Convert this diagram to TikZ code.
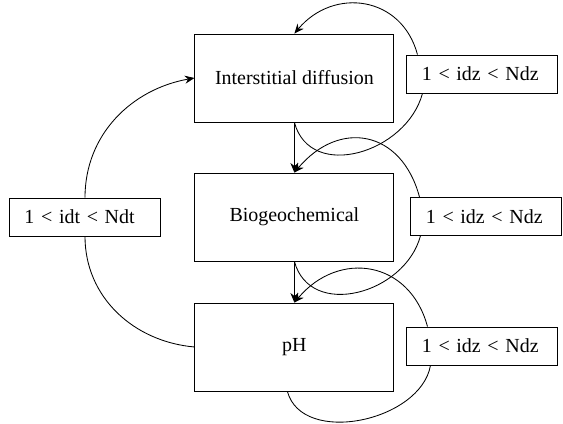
\documentclass[tikz,border=0pt]{standalone}
\usepackage{fontspec}
\setmainfont{Liberation Serif}
\usetikzlibrary{arrows.meta}
\begin{document}
\begin{tikzpicture}[>={Stealth[length=2.4mm,width=2mm]},semithick,
		stage/.style={draw,minimum width=4.975cm,minimum height=2.2cm},
		loopbox/.style={draw,fill=white,minimum height=0.95cm,text width=3.025cm,inner xsep=0.375cm,align=left},
		every node/.style={font=\fontsize{14.2}{17}\selectfont}]
		\useasboundingbox (0,0) rectangle (14.075,10.6);
		% the three stages
		\node[stage] (diff) at (7.36,8.65) {Interstitial diffusion};
		\node[stage] (bgc) at (7.36,5.175) {Biogeochemical};
		\node[stage] (ph) at (7.36,1.925) {pH};
		% loop labels
		\node[loopbox] (idt) at (2.125,5.175) {1 < idt < Ndt};
		\node[loopbox] (idzA) at (12.06,8.75) {1 < idz < Ndz};
		\node[loopbox] (idzB) at (12.16,5.19) {1 < idz < Ndz};
		\node[loopbox] (idzC) at (12.06,1.95) {1 < idz < Ndz};
		% main chain
		\draw[->] (diff.south) -- (bgc.north);
		\draw[->] (bgc.south) -- (ph.north);
		% time loop
		\draw (ph.west) to[out=175,in=-90] (idt.south);
		\draw[->] (idt.north) to[out=90,in=190] (diff.west);
		% depth loops
		\draw (diff.south) to[out=-75,in=-105,looseness=1.2] ([xshift=0.4cm]idzA.south west);
		\draw[->] ([xshift=0.275cm]idzA.north west) to[out=105,in=50,looseness=1.25] (diff.north);
		\draw (bgc.south) to[out=-75,in=-105,looseness=1.2] ([xshift=0.25cm]idzB.south west);
		\draw[->] ([xshift=0.225cm]idzB.north west) to[out=105,in=50,looseness=1.4] (bgc.north);
		\draw ([xshift=-0.175cm]ph.south) to[out=-75,in=-100] ([xshift=0.6cm]idzC.south west);
		\draw[->] ([xshift=0.525cm]idzC.north west) to[out=105,in=50,looseness=1.3] (ph.north);
	\end{tikzpicture}
\end{document}
